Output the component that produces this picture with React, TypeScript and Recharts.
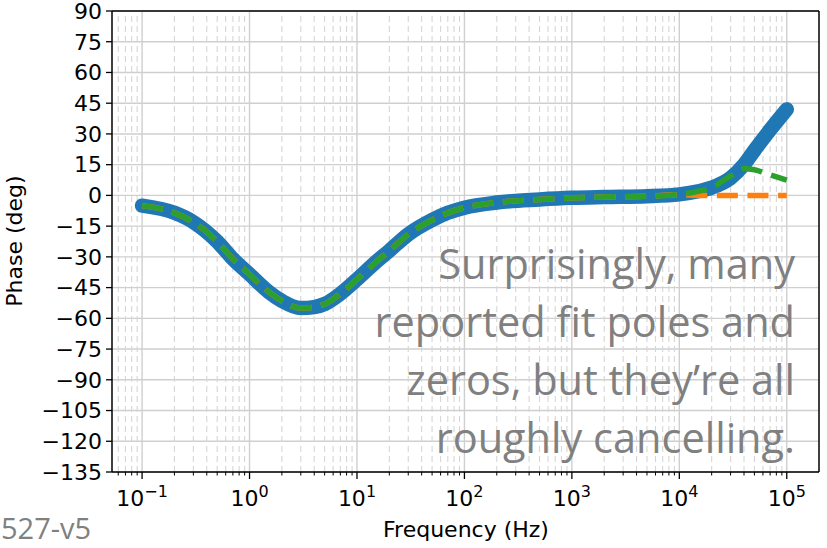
import React from 'react';
import { LineChart, Line, XAxis, YAxis, CartesianGrid, ReferenceLine } from 'recharts';

// frequency in Hz (log axis)
const freqs = [0.1, 0.2, 0.3, 0.5, 0.7, 1, 1.5, 2, 3, 4, 5, 7, 10, 15, 20, 30, 50, 70, 100, 200, 500, 1000, 2000, 5000, 10000, 15000, 20000, 30000, 40000, 50000, 70000, 100000];

// measured phase (deg)
const measuredPhase = [-5, -8.5, -13, -22.5, -31, -38.5, -47, -51.5, -55, -54.5, -53, -48, -41, -32.5, -27, -19, -12, -8.5, -6, -3.5, -2, -1.2, -0.8, -0.4, 0.5, 2, 3.8, 8.5, 15, 22, 32, 42];

// fit without the high-frequency pole/zero
const fitLowPhase = [-5, -8.5, -13, -22.5, -31, -38.5, -47, -51.5, -55, -54.5, -53, -48, -41, -32.5, -27, -19, -12, -8.5, -6, -3.5, -2, -1.2, -0.8, -0.4, 0.3, 0, 0, 0, 0, 0, 0, 0];

// full fit
const fitFullPhase = [-5, -8.5, -13, -22.5, -31, -38.5, -47, -51.5, -55, -54.5, -53, -48, -41, -32.5, -27, -19, -12, -8.5, -6, -3.5, -2, -1.2, -0.8, -0.4, 0.5, 2, 3.8, 9.5, 13, 12.5, 10, 7.5];

const yTicks = [-135, -120, -105, -90, -75, -60, -45, -30, -15, 0, 15, 30, 45, 60, 75, 90];
const majorDecades = [-1, 0, 1, 2, 3, 4, 5];
const xMin = -1.28;
const xMax = 5.3;

const minorTicks: number[] = [];
for (let n = -2; n <= 5; n++) {
  for (let k = 2; k <= 9; k++) {
    const v = Math.log10(k * Math.pow(10, n));
    if (v > xMin && v < xMax) minorTicks.push(v);
  }
}

const data = freqs.map((f, i) => ({
  lf: Math.log10(f),
  measured: measuredPhase[i],
  fitLow: fitLowPhase[i],
  fitFull: fitFullPhase[i],
}));

const FONT = '"DejaVu Sans", sans-serif';
const NOTE_FONT = '"Open Sans", sans-serif';

const FreqTick = (props: any) => {
  const { x, y, payload } = props;
  const v = payload.value;
  const major = Math.abs(v - Math.round(v)) < 1e-6;
  if (!major) {
    return <line x1={x} x2={x} y1={y} y2={y + 3.5} stroke="#000" strokeWidth={1} />;
  }
  const exp = Math.round(v);
  const expText = exp < 0 ? `\u2212${-exp}` : `${exp}`;
  return (
    <g>
      <line x1={x} x2={x} y1={y} y2={y + 7} stroke="#000" strokeWidth={1.3} />
      <text x={x} y={y + 34} textAnchor="middle" fontFamily={FONT} fontSize={22} fill="#000">
        <tspan>10</tspan>
        <tspan dy={-9} fontSize={16}>{expText}</tspan>
      </text>
    </g>
  );
};

const noteLines = ['Surprisingly, many', 'reported fit poles and', 'zeros, but they\u2019re all', 'roughly cancelling.'];

export default function App() {
  return (
    <div style={{ position: 'absolute', left: 0, top: 0, width: 827, height: 548, background: '#fff' }}>
      <LineChart width={827} height={548} data={data} margin={{ top: 11, right: 8, left: 12, bottom: 36 }}>
        <CartesianGrid vertical={false} stroke="#cfcfcf" strokeWidth={1.4} />
        {minorTicks.map((v) => (
          <ReferenceLine key={`m${v}`} x={v} stroke="#d6d6d6" strokeWidth={1.1} strokeDasharray="6 4" />
        ))}
        {majorDecades.map((v) => (
          <ReferenceLine key={`M${v}`} x={v} stroke="#cfcfcf" strokeWidth={1.4} />
        ))}
        <XAxis
          dataKey="lf"
          type="number"
          domain={[xMin, xMax]}
          allowDataOverflow
          ticks={[...majorDecades, ...minorTicks].sort((a, b) => a - b)}
          interval={0}
          tick={<FreqTick />}
          tickLine={false}
          tickSize={0}
          tickMargin={0}
          height={40}
          axisLine={{ stroke: '#000', strokeWidth: 1.5 }}
        />
        <YAxis
          type="number"
          domain={[-135, 90]}
          ticks={yTicks}
          interval={0}
          width={100}
          tickSize={6}
          tickMargin={4}
          tickLine={{ stroke: '#000', strokeWidth: 1.3 }}
          axisLine={{ stroke: '#000', strokeWidth: 1.5 }}
          tick={{ fill: '#000', fontSize: 22, fontFamily: FONT }}
          tickFormatter={(v: number) => String(v).replace('-', '\u2212')}
        />
        <ReferenceLine y={90} stroke="#000" strokeWidth={1.5} />
        <ReferenceLine x={xMax} stroke="#000" strokeWidth={1.5} />
        <Line
          type="monotone"
          dataKey="measured"
          stroke="#1f77b4"
          strokeWidth={14.5}
          strokeLinecap="round"
          strokeLinejoin="round"
          dot={false}
          isAnimationActive={false}
        />
        <Line
          type="monotone"
          dataKey="fitLow"
          stroke="#ff7f0e"
          strokeWidth={5.5}
          strokeDasharray="21 9.6"
          dot={false}
          isAnimationActive={false}
        />
        <Line
          type="monotone"
          dataKey="fitFull"
          stroke="#2ca02c"
          strokeWidth={5.5}
          strokeDasharray="21 9.6"
          dot={false}
          isAnimationActive={false}
        />
      </LineChart>
      <svg width={827} height={548} style={{ position: 'absolute', left: 0, top: 0, pointerEvents: 'none' }}>
        <text x={-241} y={22} transform="rotate(-90)" textAnchor="middle" fontFamily={FONT} fontSize={22} fill="#000">
          Phase (deg)
        </text>
        <text x={466} y={537} textAnchor="middle" fontFamily={FONT} fontSize={22} fill="#000">
          Frequency (Hz)
        </text>
        <text x={1} y={539} fontFamily={NOTE_FONT} fontSize={29} fill="#808080">
          527-v5
        </text>
        {noteLines.map((t, i) => (
          <text key={t} x={795} y={279 + i * 58} textAnchor="end" fontFamily={NOTE_FONT} fontSize={41.5} fill="#808080">
            {t}
          </text>
        ))}
      </svg>
    </div>
  );
}
